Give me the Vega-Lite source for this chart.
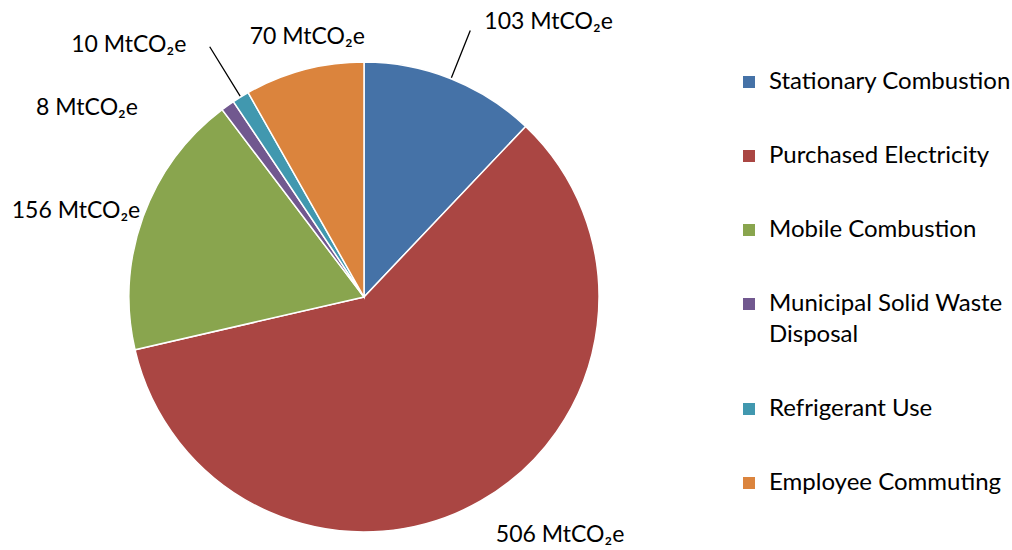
{
  "$schema": "https://vega.github.io/schema/vega-lite/v6.json",
  "width": 728,
  "height": 506,
  "padding": {"left": 0, "top": 44, "right": 284, "bottom": 0},
  "autosize": {"type": "none"},
  "background": "white",
  "config": {"view": {"stroke": null}, "font": "Lato", "style": {"guide-label": {"lineHeight": 31}}},
  "data": {
    "values": [
      {"category": "Stationary Combustion", "value": 103, "label": "103 MtCO₂e", "order": 1},
      {"category": "Purchased Electricity", "value": 506, "label": "506 MtCO₂e", "order": 2},
      {"category": "Mobile Combustion", "value": 156, "label": "156 MtCO₂e", "order": 3},
      {"category": "Municipal Solid Waste Disposal", "value": 8, "label": "8 MtCO₂e", "order": 4},
      {"category": "Refrigerant Use", "value": 10, "label": "10 MtCO₂e", "order": 5},
      {"category": "Employee Commuting", "value": 70, "label": "70 MtCO₂e", "order": 6}
    ]
  },
  "encoding": {
    "theta": {"field": "value", "type": "quantitative", "stack": true},
    "order": {"field": "order", "type": "quantitative"},
    "color": {
      "field": "category",
      "type": "nominal",
      "scale": {
        "domain": ["Stationary Combustion", "Purchased Electricity", "Mobile Combustion", "Municipal Solid Waste Disposal", "Refrigerant Use", "Employee Commuting"],
        "range": ["#4572A7", "#AA4643", "#89A54E", "#71588F", "#4198AF", "#DB843D"]
      },
      "legend": {
        "orient": "none",
        "legendX": 737,
        "legendY": 26,
        "title": null,
        "padding": 0,
        "symbolType": "square",
        "symbolSize": 144,
        "symbolStrokeWidth": 0,
        "symbolOpacity": 1,
        "labelFont": "Lato",
        "labelFontSize": 24,
        "labelColor": "black",
        "labelOffset": 8,
        "labelLimit": 400,
        "rowPadding": 50,
        "labelExpr": "datum.label == 'Municipal Solid Waste Disposal' ? ['Municipal Solid Waste', 'Disposal'] : datum.label",
        "encode": {"labels": {"enter": {"lineHeight": {"value": 31}}, "update": {"lineHeight": {"value": 31}}}}
      }
    }
  },
  "layer": [
    {"mark": {"type": "arc", "outerRadius": 235, "stroke": "white", "strokeWidth": 1.5}},
    {
      "mark": {
        "type": "arc",
        "innerRadius": 236,
        "outerRadius": {"expr": "datum.order == 1 ? 287 : 294"},
        "padAngle": 3,
        "fillOpacity": 0,
        "stroke": "black",
        "strokeWidth": 1.3,
        "strokeOpacity": {"expr": "datum.order == 1 || datum.order == 5 ? 1 : 0"}
      },
      "encoding": {"color": {"value": "black"}}
    },
    {
      "mark": {
        "type": "text",
        "radius": 250,
        "fontSize": 23,
        "font": "Lato",
        "color": "black",
        "dx": {"expr": "[92, 72, -53, -132, -104, 7][datum.order - 1]"},
        "dy": {"expr": "[-43, 21, -1, 15, -39, -18][datum.order - 1]"}
      },
      "encoding": {"text": {"field": "label"}, "color": {"value": "black"}}
    }
  ]
}
